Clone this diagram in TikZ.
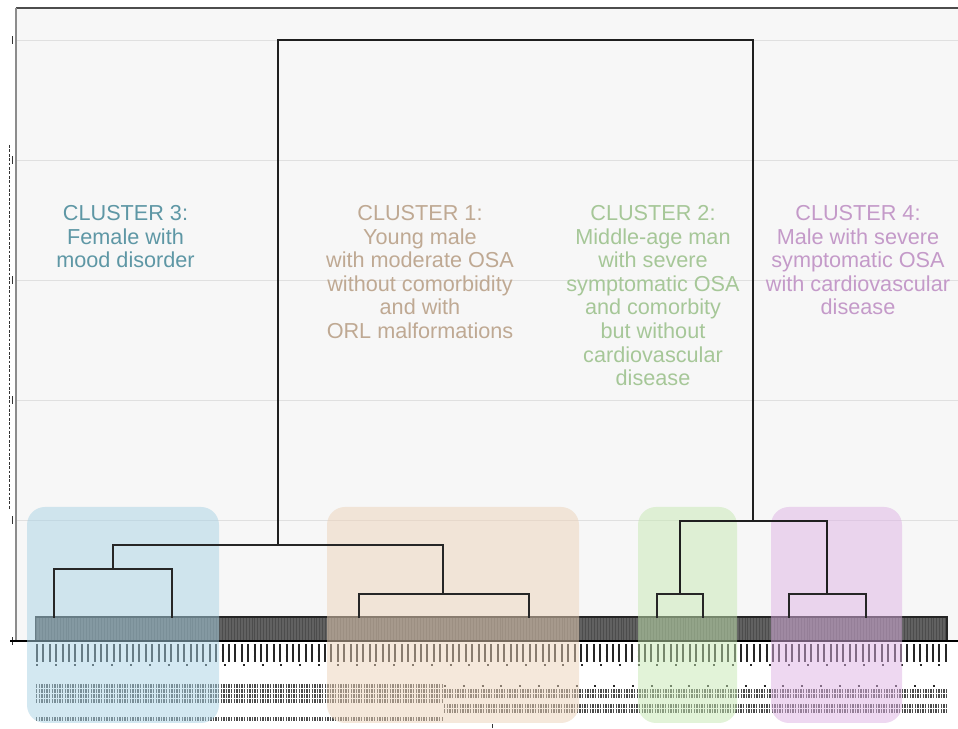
\documentclass[tikz,border=0pt]{standalone}
\usepackage{fontspec}
\setmainfont{Liberation Sans}
\definecolor{tealtxt}{RGB}{94,151,165}
\definecolor{tantxt}{RGB}{191,169,147}
\definecolor{greentxt}{RGB}{166,199,152}
\definecolor{purpletxt}{RGB}{196,154,201}
\definecolor{bluebox}{RGB}{168,210,228}
\definecolor{tanbox}{RGB}{236,210,184}
\definecolor{greenbox}{RGB}{198,232,178}
\definecolor{purplebox}{RGB}{222,178,228}
\tikzset{
  panel/.style={fill=black!3, draw=none},
  gridline/.style={draw=black!12, line width=0.6pt},
  frame/.style={draw=black!70, line width=1.4pt},
  axisline/.style={draw=black!45, line width=0.8pt},
  baseline/.style={draw=black, line width=1.5pt},
  branch/.style={draw=black!85, line width=1.3pt, line cap=rect},
  trunk/.style={draw=black!88, line width=1.7pt, line cap=rect},
  leafband/.style={fill=black!62, draw=black!85, line width=0.8pt},
  leafstripes/.style={draw=black!70, line width=0.56cm, dash pattern=on 0.4pt off 1.7pt},
  tickrow/.style={draw=black!85, line width=0.13cm, dash pattern=on 0.05cm off 0.11cm},
  sparserow/.style={draw=black!85, line width=0.06cm, dash pattern=on 0.05cm off 0.42cm},
  finerow/.style={draw=black!70, line width=0.09cm, dash pattern=on 0.035cm off 0.03cm},
  axisglyph/.style={draw=black!80, line width=0.7pt},
  clusterbox/.style={rounded corners=0.45cm, fill opacity=0.5},
  clusterlabel/.style={font=\fontsize{15.4}{16.8}\selectfont, align=center, anchor=north, inner sep=0pt},
}

\begin{document}
\begin{tikzpicture}
\useasboundingbox (0,0) rectangle (23.950,18.225);
% plot panel and grid
\fill[panel] (0.400,2.200) rectangle (23.950,18.025);
\draw[gridline] (0.400,17.225) -- (23.950,17.225);
\draw[gridline] (0.400,14.225) -- (23.950,14.225);
\draw[gridline] (0.400,11.225) -- (23.950,11.225);
\draw[gridline] (0.400,8.225) -- (23.950,8.225);
\draw[gridline] (0.400,5.225) -- (23.950,5.225);
\draw[frame] (0.400,18.025) -- (23.950,18.025);
\draw[axisline] (0.400,2.200) -- (0.400,18.025);
% axis tick labels and title (too small to read)
\foreach \ty in {2.200,5.225,8.225,11.225,14.225,17.225}
  \draw[axisglyph] (0.310,\ty-0.09) -- (0.310,\ty+0.09);
\draw[axisglyph, dash pattern=on 0.07cm off 0.04cm] (0.240,14.600) -- (0.240,5.475);
% leaf band
\draw[leafband] (0.900,2.200) rectangle (23.675,2.800);
\draw[leafstripes] (0.900,2.500) -- (23.675,2.500);
\draw[baseline] (0.250,2.200) -- (23.950,2.200);
% leaf labels (too small to read)
\draw[tickrow] (0.900,2.050) -- (23.675,2.050);
\draw[tickrow] (0.900,1.900) -- (23.675,1.900);
\draw[tickrow] (0.900,1.750) -- (23.675,1.750);
\draw[sparserow] (0.900,1.600) -- (23.675,1.600);
\draw[finerow] (0.900,1.075) -- (11.100,1.075);
\draw[sparserow] (11.100,1.075) -- (23.675,1.075);
\draw[finerow] (0.900,0.950) -- (23.675,0.950);
\draw[finerow] (0.900,0.825) -- (23.675,0.825);
\draw[finerow] (0.900,0.700) -- (11.100,0.700);
\draw[finerow] (11.100,0.575) -- (23.675,0.575);
\draw[finerow] (0.900,0.250) -- (11.100,0.250);
\draw[finerow] (11.100,0.450) -- (23.675,0.450);
\draw[axisglyph] (12.300,0.020) -- (12.300,0.130);
% cluster boxes
\fill[clusterbox, bluebox] (0.675,0.150) rectangle (5.475,5.550);
\fill[clusterbox, tanbox] (8.175,0.150) rectangle (14.475,5.550);
\fill[clusterbox, greenbox] (15.950,0.150) rectangle (18.425,5.550);
\fill[clusterbox, purplebox] (19.275,0.150) rectangle (22.550,5.550);
% dendrogram
\coordinate (root) at (12.900,17.225);
\coordinate (m13) at (6.950,4.600);
\coordinate (m24) at (18.825,5.200);
\coordinate (c3) at (2.825,4.000);
\coordinate (c1) at (11.075,3.375);
\coordinate (c2) at (17.000,3.375);
\coordinate (c4) at (20.675,3.375);
\coordinate (l31) at (1.350,2.800);
\coordinate (l32) at (4.300,2.800);
\coordinate (l11) at (8.975,2.800);
\coordinate (l12) at (13.225,2.800);
\coordinate (l21) at (16.425,2.800);
\coordinate (l22) at (17.575,2.800);
\coordinate (l41) at (19.725,2.800);
\coordinate (l42) at (21.650,2.800);
\draw[trunk] (m13) |- (root) -| (m24);
\draw[branch] (c3) |- (m13) -| (c1);
\draw[trunk] (c2) |- (m24) -| (c4);
\draw[branch] (l31) |- (c3) -| (l32);
\draw[branch] (l11) |- (c1) -| (l12);
\draw[branch] (l21) |- (c2) -| (l22);
\draw[branch] (l41) |- (c4) -| (l42);
% cluster labels
\node[clusterlabel, text=tealtxt] (lab3) at (3.138,13.100) {CLUSTER 3:\\Female with\\mood disorder};
\node[clusterlabel, text=tantxt] (lab1) at (10.500,13.100) {CLUSTER 1:\\Young male\\with moderate OSA\\without comorbidity\\and with\\ORL malformations};
\node[clusterlabel, text=greentxt] (lab2) at (16.325,13.100) {CLUSTER 2:\\Middle-age man\\with severe\\symptomatic OSA\\and comorbity\\but without\\cardiovascular\\disease};
\node[clusterlabel, text=purpletxt] (lab4) at (21.450,13.100) {CLUSTER 4:\\Male with severe\\symptomatic OSA\\with cardiovascular\\disease};
\end{tikzpicture}
\end{document}
